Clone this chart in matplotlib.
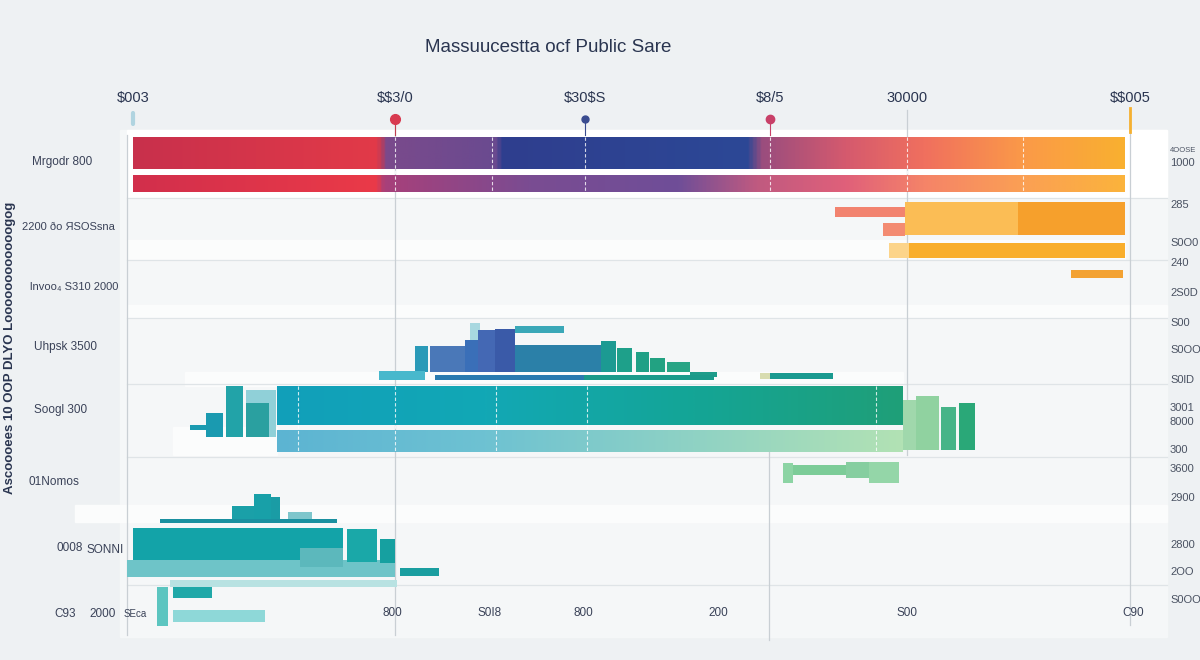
import numpy as np
import matplotlib
matplotlib.use("Agg")
from matplotlib import pyplot as plt
from matplotlib.colors import LinearSegmentedColormap
from matplotlib.patches import Rectangle

plt.rcParams['font.family'] = ['Liberation Sans', 'DejaVu Sans']

# ---- data (x = amount along the shared scale, y = row offset from panel top) ----
title = "Massuucestta ocf Public Sare"
y_title = "Ascoooees 10 OOP DLYO Loooooooooooogog"

top_ticks = ["$003", "$$3/0", "$30$S", "$8/5", "30000", "$$005"]
top_tick_pos = [0, 262, 452, 637, 774, 997]

# two long gradient bars
top_left = [0, 0]
top_width = [992, 992]
top_row = [7, 45]
top_height = [32, 17]

# orange group
orange_left = [702, 772, 885, 750, 756, 776, 938]
orange_width = [70, 113, 107, 22, 20, 216, 52]
orange_row = [77, 72, 72, 93, 113, 113, 140]
orange_height = [10, 33, 33, 13, 15, 15, 8]
orange_colors = ['#f2836f', '#fbbd55', '#f6a02c', '#f38b72', '#fcd48a', '#f9ae2c', '#f3a233']

# blue / teal histogram
hist_left = [282, 297, 332, 337, 345, 362, 382, 382, 468, 484, 503, 517, 534, 557,
             246, 302, 451, 627, 637]
hist_width = [13, 35, 13, 10, 17, 20, 86, 49, 15, 15, 13, 15, 23, 27,
              46, 149, 130, 10, 63]
hist_row = [216, 216, 210, 193, 200, 199, 215, 196, 211, 218, 222, 228, 232, 242,
            241, 245, 245, 243, 243]
hist_height = [26, 26, 32, 17, 42, 43, 27, 7, 31, 24, 20, 14, 10, 5,
               9, 5, 5, 6, 6]
hist_colors = ['#2a9ab8', '#4a78b8', '#3a6fb8', '#a8d8e0', '#4468b4', '#3a5aa8', '#2b80a8',
               '#3aa8b8', '#1c9a92', '#1ea08a', '#20a086', '#22a282', '#28a585', '#1e9c8a',
               '#48b8cc', '#2a7ab0', '#1a9a8a', '#d8dcb0', '#1a9a90']

# main teal bars
teal_left = [144, 144]
teal_width = [626, 626]
teal_row = [256, 300]
teal_height = [39, 22]

# side bars next to teal bars
side_left = [57, 73, 93, 113, 113, 770, 783, 808, 826, 650, 660, 713, 736]
side_width = [16, 17, 17, 30, 23, 13, 23, 15, 16, 10, 53, 23, 30]
side_row = [295, 283, 256, 260, 273, 270, 266, 277, 273, 333, 335, 332, 332]
side_height = [5, 24, 51, 47, 34, 50, 54, 43, 47, 20, 10, 16, 21]
side_colors = ['#1a9ab0', '#1a9ab0', '#22a3a8', '#90d0d8', '#2aa0a0', '#a0d8ac', '#90d2a0',
               '#46b488', '#2aa878', '#8cd4a4', '#7ccc98', '#86cea0', '#94d6a8']

# lower-left cluster
low_left = [121, 99, 138, 155, 27, 0, -6, 167, 214, 247, 267, 37, 24, 40, 40]
low_width = [17, 22, 9, 24, 177, 210, 268, 43, 30, 15, 39, 227, 11, 39, 92]
low_row = [364, 376, 367, 382, 389, 398, 430, 418, 399, 409, 438, 450, 457, 457, 480]
low_height = [26, 14, 23, 7, 4, 32, 17, 19, 33, 24, 8, 7, 39, 11, 12]
low_colors = ['#18a0a8', '#1aa0a8', '#1a9ca5', '#7ec6cc', '#1a90a0', '#13a3a8', '#6ec4c8',
              '#5cb8bc', '#1aa8a8', '#16a0a0', '#1a9ea0', '#b8e2e2', '#5cc5c0', '#1fa8a8',
              '#8ed8d8']

left_labels = ["Mrgodr 800", "2200 ðo ЯSOSsna", "lnvoo₄ S310 2000", "Uhpsk 3500",
               "Soogl 300", "01Nomos"]
left_label_x = [-41, -18, -15, -36, -46, -54]
left_label_y = [32, 97, 157, 217, 280, 352]

low_labels = ["0008", "SONNI", "C93", "2000", "SEca"]
low_label_x = [-63, -28, -68, -30, 2]
low_label_y = [418, 420, 484, 484, 484]

bottom_labels = ["800", "S0I8", "800", "200", "S00", "C90"]
bottom_pos = [259, 357, 450, 585, 774, 1000]

right_labels = ["4OOSE", "1000", "285", "S0O0", "240", "2S0D", "S00", "S0OO", "S0lD",
                "3001", "8000", "300", "3600", "2900", "2800", "2OO", "S0OO"]
right_rows = [21, 33, 75, 113, 133, 163, 193, 220, 250, 278, 292, 320, 339, 368, 415, 442, 470]

navy = '#2a3550'
grey_txt = '#3a4258'

fig = plt.figure(figsize=(12, 6.6), dpi=100)
fig.patch.set_facecolor('#eef1f3')
ax = fig.add_axes([0, 0, 1, 1])
ax.set_facecolor('#eef1f3')
ax.axis('off')


def grad_bar(left, width, row, height, colors, z=3):
    cmap = LinearSegmentedColormap.from_list('g', colors)
    ax.imshow(np.linspace(0, 1, 512)[None, :], extent=(left, left + width, row + height, row),
              cmap=cmap, aspect='auto', zorder=z, interpolation='bilinear')


# panel and light bands
ax.add_patch(Rectangle((-13, 0), 1047, 507, color='#f5f7f8', zorder=0))
ax.add_patch(Rectangle((-6, 0), 1040, 68, color='#ffffff', zorder=1))
for l, w, r, h in [(-6, 998, 110, 20), (-6, 1040, 175, 13), (52, 718, 242, 14),
                   (-58, 1092, 375, 17), (40, 104, 297, 28)]:
    ax.add_patch(Rectangle((l, r), w, h, color='#fbfcfc', zorder=1))

# grid
for y in [68, 130, 188, 254, 327, 455]:
    ax.plot([-6, 1034], [y, y], color='#dfe4e7', lw=0.9, zorder=2)
for x, y0, y1 in [(-6, 5, 505), (262, -5, 505), (774, -20, 325), (636, 320, 510), (997, -20, 495)]:
    ax.plot([x, x], [y0, y1], color='#c9cfd4', lw=0.9, zorder=2)

# top gradient bars
stops_a = [(0, '#c8304c'), (0.245, '#e23a48'), (0.25, '#b53d5e'), (0.255, '#7a4a8c'),
           (0.365, '#6a4a90'), (0.372, '#2f3e8e'), (0.62, '#2c4896'), (0.635, '#9a4d7e'),
           (0.72, '#d55a6e'), (0.8, '#f0705e'), (0.9, '#fb9a48'), (1, '#f9b030')]
stops_b = [(0, '#d22f4c'), (0.245, '#ea3a48'), (0.252, '#a8407a'), (0.4, '#7a4c92'),
           (0.55, '#6f4e98'), (0.63, '#c05a80'), (0.72, '#e0607a'), (0.8, '#f58468'),
           (0.9, '#fba054'), (1, '#fbb33c')]
for i, st in enumerate([stops_a, stops_b]):
    grad_bar(top_left[i], top_width[i], top_row[i], top_height[i], st)

ax.barh(orange_row, orange_width, left=orange_left, height=orange_height, align='edge',
        color=orange_colors, zorder=3)
ax.barh(hist_row, hist_width, left=hist_left, height=hist_height, align='edge',
        color=hist_colors, zorder=3)

grad_bar(teal_left[0], teal_width[0], teal_row[0], teal_height[0],
         ['#119fba', '#12a8b5', '#14a596', '#1f9f78'])
grad_bar(teal_left[1], teal_width[1], teal_row[1], teal_height[1],
         ['#5cb4d2', '#6ec2d2', '#8fd2c4', '#b2e2b4'])

ax.barh(side_row, side_width, left=side_left, height=side_height, align='edge',
        color=side_colors, zorder=3)
ax.barh(low_row, low_width, left=low_left, height=low_height, align='edge',
        color=low_colors, zorder=3)

# dashed white guides inside bars
for x in [262, 359, 452, 637, 774, 890]:
    ax.plot([x, x], [7, 62], color='white', lw=0.8, ls=(0, (3, 2)), alpha=0.8, zorder=4)
for x in [165, 262, 363, 454, 743]:
    ax.plot([x, x], [256, 322], color='white', lw=0.8, ls=(0, (3, 2)), alpha=0.8, zorder=4)

# markers above the scale
ax.plot([0, 0], [-17, -6], color='#b0d4e0', lw=3, zorder=4, solid_capstyle='round')
ax.plot([262, 262], [-10, 5], color='#c24050', lw=0.8, zorder=4)
ax.plot(262, -11, 'o', color='#d83a50', ms=7, zorder=5)
ax.plot([452, 452], [-10, 5], color='#3a4c90', lw=0.8, zorder=4)
ax.plot(452, -11, 'o', color='#3a4c90', ms=5, zorder=5)
ax.plot([637, 637], [-10, 5], color='#c84068', lw=0.8, zorder=4)
ax.plot(637, -11, 'o', color='#c84068', ms=6, zorder=5)
ax.plot([997, 997], [-22, 2], color='#f5b030', lw=2, zorder=4)

# texts
ax.text(415, -82, title, ha='center', va='center', fontsize=13.5, color=navy, parse_math=False)
for s, x in zip(top_ticks, top_tick_pos):
    ax.text(x, -32, s, ha='center', va='center', fontsize=10.5, color=navy, parse_math=False)
ax.text(-123, 218, y_title, ha='center', va='center', rotation=90, fontsize=9.5,
        fontweight='bold', color=navy, parse_math=False)
for s, x, y in zip(left_labels, left_label_x, left_label_y):
    ax.text(x, y, s, ha='right', va='center', fontsize=8 if len(s) > 12 else 8.5,
            color=grey_txt, parse_math=False)
for s, x, y in zip(low_labels, low_label_x, low_label_y):
    ax.text(x, y, s, ha='center', va='center', fontsize=7 if s == "SEca" else 8.5,
            color=grey_txt, parse_math=False)
for s, x in zip(bottom_labels, bottom_pos):
    ax.text(x, 483, s, ha='center', va='center', fontsize=8.5, color=grey_txt, parse_math=False)
for s, y in zip(right_labels, right_rows):
    ax.text(1037, y, s, ha='left', va='center', fontsize=5.5 if s == "4OOSE" else 8,
            color='#4a5262', parse_math=False)

ax.set_xlim(-133, 1067)
ax.set_ylim(530, -130)

fig.savefig("out.png", dpi=100, facecolor=fig.get_facecolor())
